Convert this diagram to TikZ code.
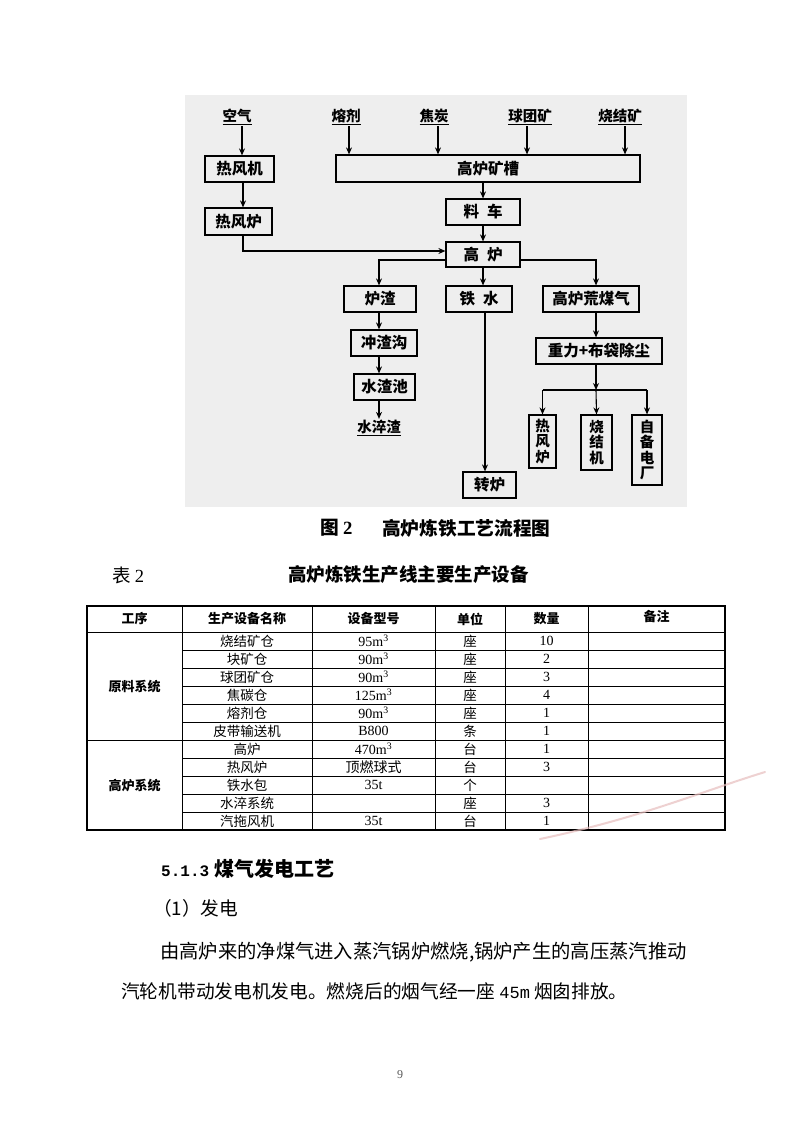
\documentclass[tikz,border=0pt]{standalone}
\usepackage{fontspec}
\setmainfont{Liberation Serif}
\newfontfamily\cjk{Noto Sans CJK SC}
\newfontfamily\mono{Liberation Mono}
\usetikzlibrary{arrows.meta}
\begin{document}
\begin{tikzpicture}[x=1pt,y=-1pt,
  fbox/.style={draw, line width=1.2pt, inner sep=0pt, font=\cjk\bfseries\fontsize{15.5}{15.5}\selectfont},
  vbox/.style={draw, line width=1.2pt, inner sep=0pt, align=center, font=\cjk\bfseries\fontsize{14.5}{15.5}\selectfont},
  arr/.style={line width=1.1pt, -{Stealth[length=7pt,width=6pt]}},
  ln/.style={line width=1.1pt},
  inlabel/.style={font=\cjk\bfseries\fontsize{14.5}{14.5}\selectfont, inner sep=1pt},
  tl/.style={line width=0.9pt},
  hcell/.style={font=\cjk\bfseries\fontsize{13}{13}\selectfont, inner sep=0pt},
  cell/.style={font=\cjk\fontsize{13.5}{13.5}\selectfont, inner sep=0pt},
  lcell/.style={font=\fontsize{14}{14}\selectfont, inner sep=0pt}
]
\useasboundingbox (0,0) rectangle (800,1131);
\fill[white] (0,0) rectangle (800,1131);
\fill[gray!13] (185,95) rectangle (687,507);

% ---- inputs
\node[inlabel] (kq) at (237,117) {\underline{空气}};
\node[inlabel] (rj) at (346,117) {\underline{熔剂}};
\node[inlabel] (jt) at (434,117) {\underline{焦炭}};
\node[inlabel] (qtk) at (530,117) {\underline{球团矿}};
\node[inlabel] (sjk) at (620,117) {\underline{烧结矿}};

% ---- boxes
\node[fbox, minimum width=69pt, minimum height=26pt] (rfj) at (239.5,169) {热风机};
\node[fbox, minimum width=67pt, minimum height=27pt] (rfl) at (238.5,221.5) {热风炉};
\node[fbox, minimum width=304pt, minimum height=27pt] (cao) at (488,168.5) {高炉矿槽};
\node[fbox, minimum width=74pt, minimum height=26pt] (lc) at (483,212) {料\hspace{8pt}车};
\node[fbox, minimum width=74pt, minimum height=25pt] (gl) at (483,254.5) {高\hspace{8pt}炉};
\node[fbox, minimum width=72pt, minimum height=26pt] (lz) at (380,299) {炉渣};
\node[fbox, minimum width=66pt, minimum height=26pt] (ts) at (479,299) {铁\hspace{8pt}水};
\node[fbox, minimum width=96pt, minimum height=26pt] (hmq) at (591,299) {高炉荒煤气};
\node[fbox, minimum width=66pt, minimum height=26pt] (czg) at (384,343) {冲渣沟};
\node[fbox, minimum width=61pt, minimum height=26pt] (szc) at (384.5,387) {水渣池};
\node[inlabel] (szz) at (379,428) {\underline{水淬渣}};
\node[fbox, minimum width=53pt, minimum height=26pt] (zl) at (489.5,485) {转炉};
\node[fbox, minimum width=126pt, minimum height=26pt] (cc) at (599,351) {重力+布袋除尘};
\node[vbox, minimum width=27pt, minimum height=53pt] (v1) at (542.5,441.5) {热\\风\\炉};
\node[vbox, minimum width=31pt, minimum height=55pt] (v2) at (596.5,442.5) {烧\\结\\机};
\node[vbox, minimum width=30pt, minimum height=70pt] (v3) at (647,450) {自\\备\\电\\厂};

% ---- connectors
\draw[arr] ([xshift=5pt]kq.south) -- ([xshift=5pt]kq.south |- rfj.north);
\draw[arr] ([xshift=3pt]rj.south) -- ([xshift=3pt]rj.south |- cao.north);
\draw[arr] ([xshift=4pt]jt.south) -- ([xshift=4pt]jt.south |- cao.north);
\draw[arr] ([xshift=-3pt]qtk.south) -- ([xshift=-3pt]qtk.south |- cao.north);
\draw[arr] ([xshift=5pt]sjk.south) -- ([xshift=5pt]sjk.south |- cao.north);
\draw[arr] ([xshift=3.5pt]rfj.south) -- ([xshift=3.5pt]rfj.south |- rfl.north);
\draw[arr] (cao.south -| lc) -- (lc.north);
\draw[arr] (lc.south) -- (gl.north);
\draw[arr] ([xshift=4.5pt]rfl.south) |- ([yshift=3.5pt]gl.west);
\draw[arr] ([yshift=-5.5pt]gl.west) -| ([xshift=-1pt]lz.north);
\draw[arr] ([yshift=-5.5pt]gl.east) -| ([xshift=5pt]hmq.north);
\draw[arr] (gl.south) -- (gl.south |- ts.north);
\draw[arr] ([xshift=6pt]ts.south) -- ([xshift=6pt]ts.south |- zl.north);
\draw[arr] (lz.south -| szz) -- (czg.north -| szz);
\draw[arr] (czg.south -| szz) -- (szc.north -| szz);
\draw[arr] (szc.south -| szz) -- (szz.north);
\draw[arr] ([xshift=5pt]hmq.south) -- ([xshift=5pt]hmq.south |- cc.north);
\coordinate (jn) at (596,390);
\draw[arr] ([xshift=-3pt]cc.south) -- (jn);
\draw[ln] (v1.north |- jn) -- (v3.north |- jn);
\draw[arr] (v1.north |- jn) -- (v1.north);
\draw[arr] (jn) -- (v2.north);
\draw[arr] (v3.north |- jn) -- (v3.north);

% ---- captions
\node[anchor=west, inner sep=0pt, font=\cjk\bfseries\fontsize{18.7}{18.7}\selectfont] (cap) at (320,528) {图 {\rmfamily\bfseries 2}};
\node[anchor=west, inner sep=0pt, font=\cjk\bfseries\fontsize{18.7}{18.7}\selectfont] (capt) at (382,528) {高炉炼铁工艺流程图};
\node[anchor=west, inner sep=0pt, font=\cjk\fontsize{18.5}{18.5}\selectfont] (tnum) at (112,575) {表 {\rmfamily 2}};
\node[anchor=west, inner sep=0pt, font=\cjk\bfseries\fontsize{18.5}{18.5}\selectfont] (ttl) at (288,575) {高炉炼铁生产线主要生产设备};

% ---- table
\foreach \x in {182,312,435,505,588} \draw[tl] (\x,606) -- (\x,830);
\draw[line width=1.2pt] (87,606) rectangle (725,830);
\draw[tl] (87,632) -- (725,632);
\draw[tl] (87,740) -- (725,740);
\foreach \i in {1,2,3,4,5,7,8,9,10} \draw[tl] (182,{632+18*\i}) -- (725,{632+18*\i});
\node[hcell] (h1) at (134.5,619) {工序};
\node[hcell] (h2) at (247,619) {生产设备名称};
\node[hcell] (h3) at (373.5,619) {设备型号};
\node[hcell] (h4) at (470,619) {单位};
\node[hcell] (h5) at (546.5,619) {数量};
\node[hcell] (h6) at (656.5,617) {备注};
\node[hcell] (g1) at (134.5,687) {原料系统};
\node[hcell] (g2) at (134.5,786) {高炉系统};
\foreach \i/\a/\b/\c/\d in {1/烧结矿仓/95m\textsuperscript{3}/座/10,
  2/块矿仓/90m\textsuperscript{3}/座/2,
  3/球团矿仓/90m\textsuperscript{3}/座/3,
  4/焦碳仓/125m\textsuperscript{3}/座/4,
  5/熔剂仓/90m\textsuperscript{3}/座/1,
  6/皮带输送机/B800/条/1,
  7/高炉/470m\textsuperscript{3}/台/1,
  8/热风炉/\cjk 顶燃球式/台/3,
  9/铁水包/35t/个/{},
  10/水淬系统/{}/座/3,
  11/汽拖风机/35t/台/1}{
  \node[cell] (n\i) at (247,{623+18*\i}) {\a};
  \node[lcell] (m\i) at (373.5,{623+18*\i}) {\b};
  \node[cell] (u\i) at (470,{623+18*\i}) {\c};
  \node[lcell] (q\i) at (546.5,{623+18*\i}) {\d};
}
\draw[line width=2pt, red!45!gray!35, line cap=round, opacity=0.7] (540,839) .. controls (640,818) and (700,792) .. (765,772);

% ---- text
\node[anchor=west, inner sep=0pt, font=\cjk\bfseries\fontsize{20}{20}\selectfont] (h513) at (161,869) {{\mono\bfseries\fontsize{16}{16}\selectfont 5.1.3}\hspace{5pt}煤气发电工艺};
\node[anchor=west, inner sep=0pt, font=\cjk\fontsize{18.7}{18.7}\selectfont] (sub1) at (153,908) {（1）发电};
\node[anchor=west, inner sep=0pt, font=\cjk\fontsize{19.3}{19.3}\selectfont] (b1) at (160,952) {由高炉来的净煤气进入蒸汽锅炉燃烧,锅炉产生的高压蒸汽推动};
\node[anchor=west, inner sep=0pt, font=\cjk\fontsize{18.7}{18.7}\selectfont] (b2) at (121,991) {汽轮机带动发电机发电。燃烧后的烟气经一座 {\mono\fontsize{17}{17}\selectfont 45m} 烟囱排放。};
\node[font=\fontsize{12}{12}\selectfont, text=gray!70!black] (pg) at (400,1075) {9};
\end{tikzpicture}
\end{document}
